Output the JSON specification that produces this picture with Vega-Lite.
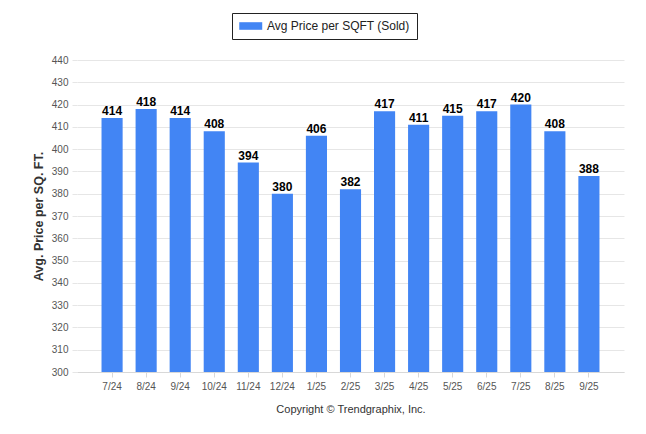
{
  "$schema": "https://vega.github.io/schema/vega-lite/v6.json",
  "width": 547,
  "height": 312,
  "autosize": {"type": "none"},
  "padding": {"left": 77, "top": 60, "right": 22, "bottom": 62},
  "background": "white",
  "config": {
    "font": "Liberation Sans",
    "view": {"stroke": null}
  },
  "data": {
    "values": [
      {"month": "7/24", "price": 414, "series": "Avg Price per SQFT (Sold)"},
      {"month": "8/24", "price": 418, "series": "Avg Price per SQFT (Sold)"},
      {"month": "9/24", "price": 414, "series": "Avg Price per SQFT (Sold)"},
      {"month": "10/24", "price": 408, "series": "Avg Price per SQFT (Sold)"},
      {"month": "11/24", "price": 394, "series": "Avg Price per SQFT (Sold)"},
      {"month": "12/24", "price": 380, "series": "Avg Price per SQFT (Sold)"},
      {"month": "1/25", "price": 406, "series": "Avg Price per SQFT (Sold)"},
      {"month": "2/25", "price": 382, "series": "Avg Price per SQFT (Sold)"},
      {"month": "3/25", "price": 417, "series": "Avg Price per SQFT (Sold)"},
      {"month": "4/25", "price": 411, "series": "Avg Price per SQFT (Sold)"},
      {"month": "5/25", "price": 415, "series": "Avg Price per SQFT (Sold)"},
      {"month": "6/25", "price": 417, "series": "Avg Price per SQFT (Sold)"},
      {"month": "7/25", "price": 420, "series": "Avg Price per SQFT (Sold)"},
      {"month": "8/25", "price": 408, "series": "Avg Price per SQFT (Sold)"},
      {"month": "9/25", "price": 388, "series": "Avg Price per SQFT (Sold)"}
    ]
  },
  "encoding": {
    "x": {
      "field": "month",
      "type": "nominal",
      "sort": null,
      "scale": {"paddingInner": 0.38, "paddingOuter": 0.72},
      "axis": {
        "title": "Copyright © Trendgraphix, Inc.",
        "titleFontSize": 11,
        "titleFontWeight": "normal",
        "titleColor": "#333333",
        "titleY": 37,
        "titleBaseline": "middle",
        "labelAngle": 0,
        "labelFontSize": 10,
        "labelColor": "#555555",
        "labelPadding": 4,
        "tickColor": "#d8d8d8",
        "tickSize": 5,
        "domainColor": "#d8d8d8",
        "grid": false
      }
    },
    "y": {
      "field": "price",
      "type": "quantitative",
      "scale": {"domain": [300, 440], "zero": false, "nice": false},
      "axis": {
        "title": "Avg. Price per SQ. FT.",
        "titleFontSize": 12.5,
        "titleFontWeight": "bold",
        "titleColor": "#333333",
        "titleX": -39,
        "titleY": 156,
        "titleAlign": "center",
        "titleBaseline": "middle",
        "titleAngle": -90,
        "values": [300, 310, 320, 330, 340, 350, 360, 370, 380, 390, 400, 410, 420, 430, 440],
        "labelFontSize": 10,
        "labelColor": "#555555",
        "labelPadding": 4,
        "tickColor": "#e6e6e6",
        "tickSize": 5,
        "gridColor": "#e6e6e6",
        "domain": false
      }
    }
  },
  "layer": [
    {
      "mark": {"type": "bar", "clip": true},
      "encoding": {
        "color": {
          "field": "series",
          "type": "nominal",
          "scale": {"range": ["#4285F4"]},
          "legend": {
            "title": null,
            "orient": "none",
            "legendX": 155,
            "legendY": -47,
            "padding": 7,
            "strokeColor": "#222222",
            "fillColor": "white",
            "symbolType": "M-1,-0.66H3V0.66H-1Z",
            "symbolSize": 132,
            "symbolStrokeWidth": 0,
            "symbolOpacity": 1,
            "labelFontSize": 12,
            "labelColor": "#222222",
            "labelOffset": 16
          }
        }
      }
    },
    {
      "mark": {"type": "text", "baseline": "alphabetic", "dy": -3, "fontWeight": "bold", "fontSize": 12, "color": "#000000"},
      "encoding": {"text": {"field": "price", "type": "quantitative"}}
    }
  ]
}
